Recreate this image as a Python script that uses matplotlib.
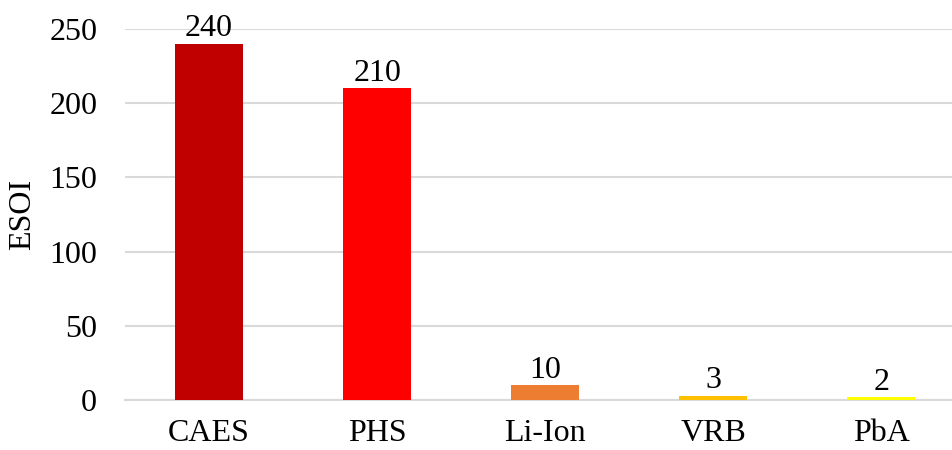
import numpy as np
import matplotlib.pyplot as plt

categorias = ["CAES", "PHS", "Li-Ion", "VRB", "PbA"]
esoi = [240, 210, 10, 3, 2]
colores = ["#C00000", "#FF0000", "#ED7D31", "#FFC000", "#FFFF00"]

plt.rcParams["font.family"] = ["Liberation Serif", "DejaVu Serif"]

fig = plt.figure(figsize=(9.52, 4.5), dpi=100)
ax = fig.add_axes([0.1313, 0.111, 0.8687, 0.8246])

x = np.arange(len(categorias))
barras = ax.bar(x, esoi, width=0.405, color=colores, zorder=3)

# Etiquetas de valor encima de cada barra
for xi, v in zip(x, esoi):
    ax.text(xi, v + 0.3, str(v), ha="center", va="bottom", fontsize=23, zorder=4)

ax.set_ylim(0, 250)
ax.set_xlim(-0.5, 4.42)
ax.set_yticks([0, 50, 100, 150, 200, 250])
ax.set_xticks(x)
ax.set_xticklabels(categorias)
ax.tick_params(axis="both", length=0, labelsize=23)
ax.tick_params(axis="y", pad=20)
ax.tick_params(axis="x", pad=14)
ax.set_ylabel("ESOI", fontsize=23, labelpad=9)

ax.grid(axis="y", color="#D9D9D9", linewidth=1.5, zorder=0)
for s in ["top", "right", "left"]:
    ax.spines[s].set_visible(False)
ax.spines["bottom"].set_color("#D9D9D9")
ax.spines["bottom"].set_linewidth(1.5)

fig.savefig("out.png", dpi=100)
